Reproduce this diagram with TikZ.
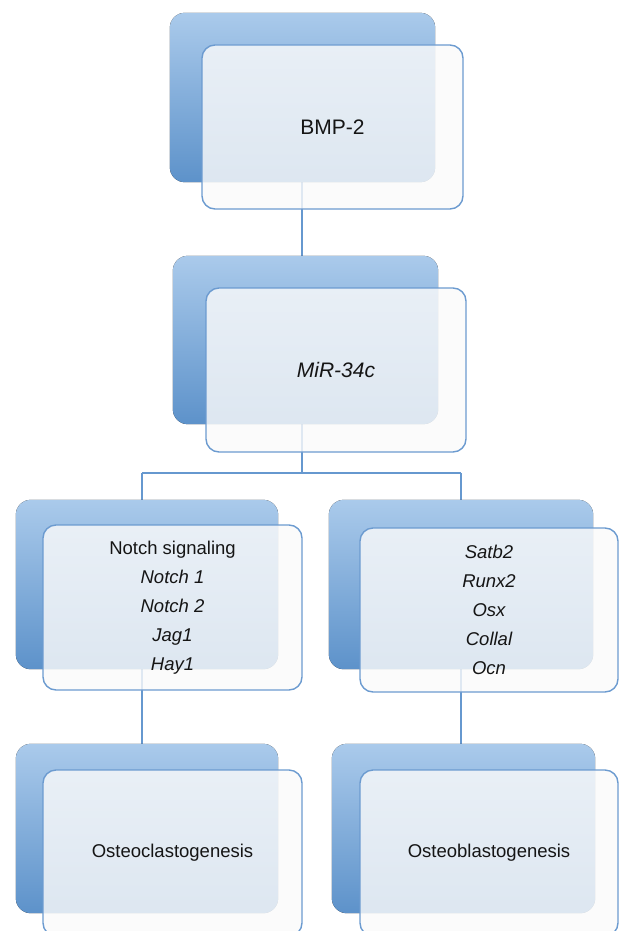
\documentclass[tikz,border=0pt]{standalone}
\usepackage{fontspec}
\setmainfont{Liberation Sans}
\definecolor{backtop}{HTML}{AACAEB}
\definecolor{backbot}{HTML}{5D92CA}
\definecolor{frontline}{HTML}{6C9BD0}
\definecolor{frontfill}{HTML}{FAFAFA}
\definecolor{connline}{HTML}{6698CF}
\definecolor{txt}{HTML}{151515}
\tikzset{
  backbox/.style={rectangle, rounded corners=15pt, draw=none, inner sep=0pt,
    top color=backtop, bottom color=backbot},
  frontbox/.style={rectangle, rounded corners=13pt, draw=frontline, line width=1.4pt,
    fill=frontfill, fill opacity=0.82, text opacity=1, text=txt, inner sep=0pt, align=center},
  bigtext/.style={font=\fontsize{21}{26}\selectfont},
  smalltext/.style={font=\fontsize{18.5}{29}\selectfont},
  conn/.style={draw=connline, line width=1.5pt}
}
\begin{document}
\begin{tikzpicture}[x=1pt,y=1pt]
\useasboundingbox (0,0) rectangle (619,-931);
% junction coordinates
\coordinate (split) at (302,-473);
\coordinate (L) at (142,-473);
\coordinate (R) at (461,-473);
% back box placeholders
\path (302.5,-97.5) node[minimum width=265pt, minimum height=169pt, inner sep=0pt] (b1back) {};
\path (305.5,-340) node[minimum width=265pt, minimum height=168pt, inner sep=0pt] (b2back) {};
\path (147,-584.5) node[minimum width=262pt, minimum height=169pt, inner sep=0pt] (b3back) {};
\path (461,-584.5) node[minimum width=264pt, minimum height=169pt, inner sep=0pt] (b4back) {};
\path (147,-828.5) node[minimum width=262pt, minimum height=169pt, inner sep=0pt] (b5back) {};
\path (463.5,-828.5) node[minimum width=263pt, minimum height=169pt, inner sep=0pt] (b6back) {};
% connectors
\draw[conn] (split |- b1back.center) -- (split |- b2back.center);
\draw[conn] (split |- b2back.center) -- (split);
\draw[conn] (L) -- (R);
\draw[conn] (L) -- (L |- b5back.center);
\draw[conn] (R) -- (R |- b6back.center);
% visible back boxes
\fill[backbox] (b1back.south west) rectangle (b1back.north east);
\fill[backbox] (b2back.south west) rectangle (b2back.north east);
\fill[backbox] (b3back.south west) rectangle (b3back.north east);
\fill[backbox] (b4back.south west) rectangle (b4back.north east);
\fill[backbox] (b5back.south west) rectangle (b5back.north east);
\fill[backbox] (b6back.south west) rectangle (b6back.north east);
% front boxes
\node[frontbox, bigtext, minimum width=261pt, minimum height=164pt] (b1) at (332.5,-127) {BMP-2};
\node[frontbox, bigtext, minimum width=260pt, minimum height=164pt] (b2) at (336,-370) {\itshape MiR-34c};
\node[frontbox, smalltext, minimum width=259pt, minimum height=165pt] (b3) at (172.5,-607.5)
  {Notch signaling\\ \itshape Notch 1\\ \itshape Notch 2\\ \itshape Jag1\\ \itshape Hay1};
\node[frontbox, smalltext, minimum width=258pt, minimum height=164pt] (b4) at (489,-610)
  {\itshape Satb2\\ \itshape Runx2\\ \itshape Osx\\ \itshape Collal\\ \itshape Ocn};
\node[frontbox, smalltext, minimum width=259pt, minimum height=166pt] (b5) at (172.5,-853) {Osteoclastogenesis};
\node[frontbox, smalltext, minimum width=258pt, minimum height=166pt] (b6) at (489,-853) {Osteoblastogenesis};
\end{tikzpicture}
\end{document}
